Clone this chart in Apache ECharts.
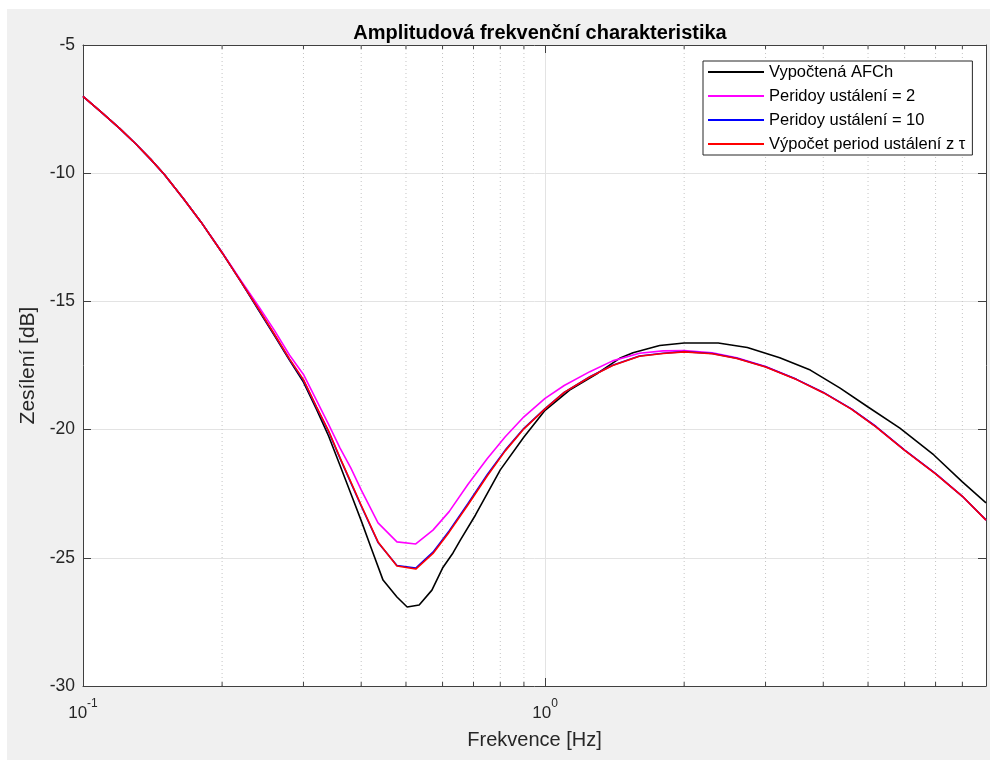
<!DOCTYPE html>
<html>
<head>
<meta charset="utf-8">
<script src="https://cdn.jsdelivr.net/npm/echarts@6/dist/echarts.min.js"></script>
<style>
  html, body { margin: 0; padding: 0; background: #ffffff; }
  #chart { width: 990px; height: 760px; }
</style>
</head>
<body>
<div id="chart"></div>
<script>
// Frequencies [Hz] of the computed response
const freqAFCh = [0.1, 0.11, 0.12, 0.13, 0.14, 0.15, 0.165, 0.18, 0.2, 0.22, 0.24, 0.26, 0.28, 0.3,
  0.32, 0.34, 0.36, 0.38, 0.4, 0.42, 0.446, 0.478, 0.503, 0.534, 0.569, 0.6, 0.632, 0.656, 0.707,
  0.8, 0.9, 1.0, 1.13, 1.3, 1.45, 1.55, 1.77, 2.0, 2.37, 2.74, 3.22, 3.75, 4.35, 5.0, 5.86, 6.94, 8.0, 9.0];
// Gain [dB] of the computed response
const gainAFCh = [-7.0, -7.65, -8.25, -8.85, -9.45, -10.05, -11.0, -11.9, -13.1, -14.25, -15.35, -16.35, -17.3, -18.15,
  -19.2, -20.25, -21.4, -22.5, -23.55, -24.6, -25.87, -26.53, -26.92, -26.84, -26.26, -25.4, -24.81, -24.3, -23.33,
  -21.57, -20.29, -19.25, -18.46, -17.8, -17.22, -17.0, -16.72, -16.62, -16.62, -16.8, -17.2, -17.68, -18.38, -19.12, -19.94, -20.99, -22.04, -22.86];

// Frequencies [Hz] of the measured responses
const freqMeas = [0.1, 0.11, 0.12, 0.13, 0.14, 0.15, 0.165, 0.18, 0.2, 0.22, 0.24, 0.26, 0.28, 0.3,
  0.32, 0.34, 0.36, 0.38, 0.4, 0.435, 0.478, 0.525, 0.572, 0.62, 0.68, 0.75, 0.82, 0.9, 1.0, 1.1,
  1.25, 1.4, 1.6, 1.8, 2.0, 2.3, 2.6, 3.0, 3.5, 4.0, 4.6, 5.2, 6.0, 7.0, 8.0, 9.0];
// Gain [dB], 2 settling periods
const gainPer2 = [-7.0, -7.65, -8.25, -8.85, -9.45, -10.05, -11.0, -11.9, -13.08, -14.2, -15.2, -16.15, -17.1, -17.85,
  -18.85, -19.8, -20.72, -21.5, -22.35, -23.64, -24.38, -24.46, -23.92, -23.2, -22.15, -21.13, -20.28, -19.5, -18.78, -18.28,
  -17.74, -17.32, -17.02, -16.93, -16.92, -17.0, -17.2, -17.54, -18.04, -18.55, -19.19, -19.88, -20.8, -21.72, -22.6, -23.53];
// Gain [dB], 10 settling periods
const gainPer10 = [-7.0, -7.65, -8.25, -8.85, -9.45, -10.05, -11.0, -11.9, -13.1, -14.25, -15.32, -16.32, -17.27, -18.08,
  -19.12, -20.08, -21.12, -22.08, -22.98, -24.4, -25.3, -25.4, -24.78, -23.95, -22.9, -21.75, -20.8, -19.95, -19.18, -18.55,
  -17.94, -17.49, -17.13, -17.02, -16.96, -17.03, -17.22, -17.55, -18.04, -18.55, -19.19, -19.88, -20.8, -21.72, -22.6, -23.52];
// Gain [dB], settling periods derived from the time constant
const gainPerTau = [-7.0, -7.65, -8.25, -8.85, -9.45, -10.05, -11.0, -11.9, -13.1, -14.25, -15.3, -16.3, -17.25, -18.05,
  -19.1, -20.05, -21.1, -22.05, -22.95, -24.38, -25.32, -25.44, -24.83, -24.0, -22.95, -21.8, -20.83, -19.97, -19.19, -18.55,
  -17.95, -17.5, -17.14, -17.03, -16.97, -17.04, -17.23, -17.56, -18.05, -18.56, -19.2, -19.89, -20.81, -21.73, -22.6, -23.53];

const seriesNames = ['Vypočtená AFCh', 'Peridoy ustálení = 2', 'Peridoy ustálení = 10', 'Výpočet period ustálení z τ'];
const seriesColors = ['#000000', '#ff00ff', '#0000ff', '#ff0000'];

// Axis ticks
const xMin = 0.1, xMax = 9;
const xMajorExponents = [-1, 0];
const xMinorTicks = [0.2, 0.3, 0.4, 0.5, 0.6, 0.7, 0.8, 0.9, 2, 3, 4, 5, 6, 7, 8];
const yMin = -30, yMax = -5, yStep = 5;

const FONT = '"Liberation Sans", Arial, Helvetica, sans-serif';
const TXT = '#262626';

const zip = (xs, ys) => xs.map((x, i) => [x, ys[i]]);

const lineSeries = [
  zip(freqAFCh, gainAFCh),
  zip(freqMeas, gainPer2),
  zip(freqMeas, gainPer10),
  zip(freqMeas, gainPerTau)
].map((data, i) => ({
  name: seriesNames[i],
  type: 'line',
  data: data,
  symbol: 'none',
  smooth: false,
  z: 5 + i,
  lineStyle: { color: seriesColors[i], width: 1.6 },
  itemStyle: { color: seriesColors[i] },
  animation: false
}));

// Dotted minor grid lines and short minor ticks on the log frequency axis
const minorSeries = {
  type: 'custom',
  silent: true,
  z: 2,
  data: xMinorTicks.map(f => [f, yMin]),
  renderItem: function (params, api) {
    const f = api.value(0);
    const pb = api.coord([f, yMin]);
    const pt = api.coord([f, yMax]);
    return {
      type: 'group',
      children: [
        { type: 'line', shape: { x1: pb[0], y1: pt[1], x2: pb[0], y2: pb[1] },
          style: { stroke: '#c4c4c4', lineWidth: 1, lineDash: [1, 3] } },
        { type: 'line', shape: { x1: pb[0], y1: pb[1], x2: pb[0], y2: pb[1] - 4 },
          style: { stroke: '#404040', lineWidth: 1 } },
        { type: 'line', shape: { x1: pb[0], y1: pt[1], x2: pb[0], y2: pt[1] + 4 },
          style: { stroke: '#404040', lineWidth: 1 } }
      ]
    };
  },
  animation: false
};

function xLabel(v) {
  const e = Math.round(Math.log10(v));
  if (Math.abs(Math.log10(v) - e) > 1e-6 || xMajorExponents.indexOf(e) < 0) return '';
  return '{b|10}{s|' + e + '}';
}

const axisLineStyle = { color: '#404040', width: 1 };

const option = {
  animation: false,
  backgroundColor: '#ffffff',
  graphic: [{
    type: 'rect', z: -100, silent: true,
    shape: { x: 7, y: 9, width: 983, height: 751 },
    style: { fill: '#f0f0f0' }
  }],
  title: {
    text: 'Amplitudová frekvenční charakteristika',
    left: 535, top: 18, textAlign: 'center',
    textStyle: { fontFamily: FONT, fontSize: 20, fontWeight: 'bold', color: '#000000' }
  },
  legend: {
    orient: 'vertical',
    left: 703, top: 61,
    data: seriesNames,
    icon: 'rect',
    itemWidth: 56, itemHeight: 2,
    itemGap: 6,
    padding: [2, 7, 2, 5],
    backgroundColor: '#ffffff',
    borderColor: '#262626', borderWidth: 1,
    textStyle: { fontFamily: FONT, fontSize: 16.5, color: '#000000', lineHeight: 18 }
  },
  grid: {
    left: 83, top: 45, width: 903, height: 641,
    show: true, backgroundColor: '#ffffff', borderWidth: 0
  },
  xAxis: [{
    type: 'log', logBase: 10, min: xMin, max: xMax,
    name: 'Frekvence [Hz]', nameLocation: 'middle', nameGap: 44,
    nameTextStyle: { fontFamily: FONT, fontSize: 20, color: TXT },
    axisLine: { show: true, lineStyle: axisLineStyle },
    axisTick: { show: true, inside: true, length: 8, lineStyle: axisLineStyle },
    axisLabel: {
      show: true, margin: 12, showMaxLabel: false,
      formatter: xLabel,
      rich: {
        b: { fontFamily: FONT, fontSize: 17, color: TXT, lineHeight: 24, verticalAlign: 'bottom' },
        s: { fontFamily: FONT, fontSize: 12, color: TXT, lineHeight: 24, verticalAlign: 'top' }
      }
    },
    splitLine: { show: true, lineStyle: { color: '#e3e3e3', width: 1 } },
    minorTick: { show: false }, minorSplitLine: { show: false }
  }, {
    type: 'log', logBase: 10, min: xMin, max: xMax, position: 'top',
    axisLine: { show: true, lineStyle: axisLineStyle },
    axisTick: { show: true, inside: true, length: 8, lineStyle: axisLineStyle },
    axisLabel: { show: false }, splitLine: { show: false }
  }],
  yAxis: [{
    type: 'value', min: yMin, max: yMax, interval: yStep,
    name: 'Zesílení [dB]', nameLocation: 'middle', nameGap: 40,
    nameTextStyle: { fontFamily: FONT, fontSize: 21, color: TXT },
    axisLine: { show: true, lineStyle: axisLineStyle },
    axisTick: { show: true, inside: true, length: 8, lineStyle: axisLineStyle },
    axisLabel: { fontFamily: FONT, fontSize: 17.5, color: TXT, margin: 8 },
    splitLine: { show: true, lineStyle: { color: '#e3e3e3', width: 1 } }
  }, {
    type: 'value', min: yMin, max: yMax, interval: yStep, position: 'right',
    axisLine: { show: true, lineStyle: axisLineStyle },
    axisTick: { show: true, inside: true, length: 8, lineStyle: axisLineStyle },
    axisLabel: { show: false }, splitLine: { show: false }
  }],
  series: [minorSeries].concat(lineSeries)
};

const chart = echarts.init(document.getElementById('chart'), null, { renderer: 'canvas' });
chart.setOption(option);
</script>
</body>
</html>
